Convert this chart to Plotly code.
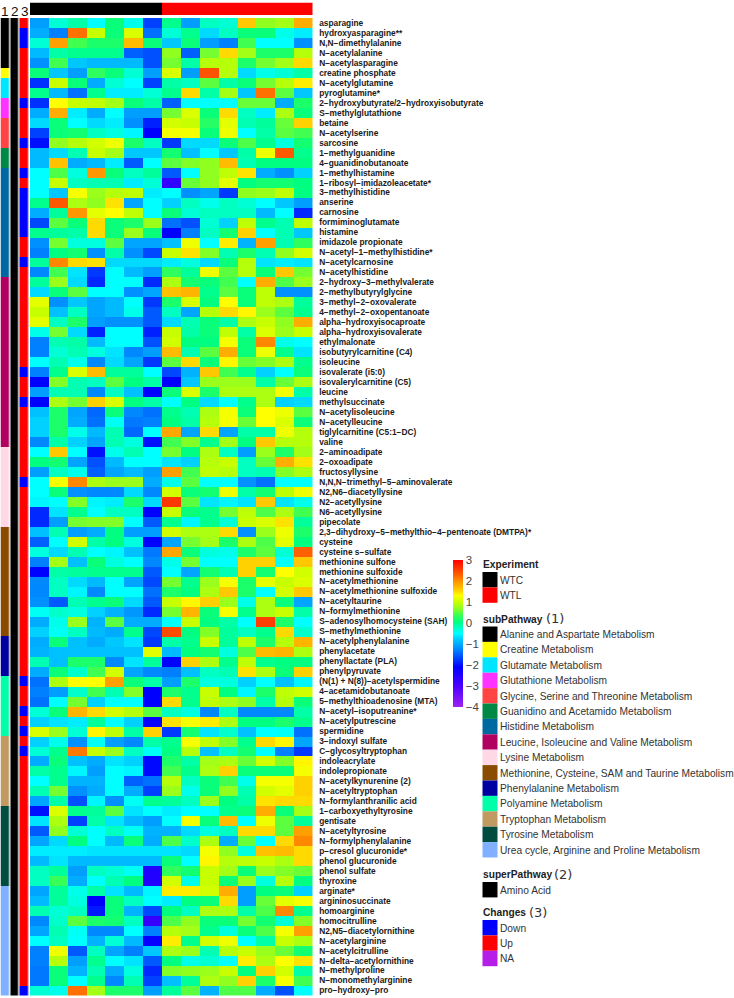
import plotly.graph_objects as go

W, H = 734, 998

metabolites = [
    "asparagine", "hydroxyasparagine**", "N,N−dimethylalanine", "N−acetylalanine", "N−acetylasparagine",
    "creatine phosphate", "N−acetylglutamine", "pyroglutamine*",
    "2−hydroxybutyrate/2−hydroxyisobutyrate", "S−methylglutathione",
    "betaine", "N−acetylserine", "sarcosine", "1−methylguanidine", "4−guanidinobutanoate",
    "1−methylhistamine", "1−ribosyl−imidazoleacetate*", "3−methylhistidine", "anserine", "carnosine",
    "formiminoglutamate", "histamine", "imidazole propionate", "N−acetyl−1−methylhistidine*",
    "N−acetylcarnosine", "N−acetylhistidine",
    "2−hydroxy−3−methylvalerate", "2−methylbutyrylglycine", "3−methyl−2−oxovalerate",
    "4−methyl−2−oxopentanoate", "alpha−hydroxyisocaproate", "alpha−hydroxyisovalerate", "ethylmalonate",
    "isobutyrylcarnitine (C4)", "isoleucine", "isovalerate (i5:0)", "isovalerylcarnitine (C5)", "leucine",
    "methylsuccinate", "N−acetylisoleucine", "N−acetylleucine", "tiglylcarnitine (C5:1−DC)", "valine",
    "2−aminoadipate", "2−oxoadipate", "fructosyllysine", "N,N,N−trimethyl−5−aminovalerate",
    "N2,N6−diacetyllysine", "N2−acetyllysine", "N6−acetyllysine", "pipecolate",
    "2,3−dihydroxy−5−methylthio−4−pentenoate (DMTPA)*", "cysteine", "cysteine s−sulfate",
    "methionine sulfone", "methionine sulfoxide", "N−acetylmethionine", "N−acetylmethionine sulfoxide",
    "N−acetyltaurine", "N−formylmethionine", "S−adenosylhomocysteine (SAH)", "S−methylmethionine",
    "N−acetylphenylalanine", "phenylacetate", "phenyllactate (PLA)", "phenylpyruvate",
    "(N(1) + N(8))−acetylspermidine", "4−acetamidobutanoate", "5−methylthioadenosine (MTA)",
    "N−acetyl−isoputreanine*", "N−acetylputrescine", "spermidine",
    "3−indoxyl sulfate", "C−glycosyltryptophan", "indoleacrylate", "indolepropionate",
    "N−acetylkynurenine (2)", "N−acetyltryptophan", "N−formylanthranilic acid",
    "1−carboxyethyltyrosine", "gentisate", "N−acetyltyrosine", "N−formylphenylalanine",
    "p−cresol glucuronide*", "phenol glucuronide", "phenol sulfate", "thyroxine",
    "arginate*", "argininosuccinate", "homoarginine", "homocitrulline", "N2,N5−diacetylornithine",
    "N−acetylarginine", "N−acetylcitrulline", "N−delta−acetylornithine", "N−methylproline",
    "N−monomethylarginine", "pro−hydroxy−pro",
]

# scaled values, one list per subPathway, columns are 7 WTC then 8 WTL
alanine = [
    [-1.1, -0.3, -0.1, -0.5, 0.1, -0.4, -1.7, 0.0, -1.1, -0.2, -0.3, 1.6, 0.7, 0.8, 1.8],
    [-1.0, -1.3, 2.2, 1.0, 0.1, 1.1, -1.4, -0.3, 0.0, -0.7, -0.2, 0.1, 0.1, -0.4, -0.6],
    [-0.3, 1.9, 0.4, 0.2, 0.2, 1.7, 0.1, -0.8, 0.1, -1.1, -1.3, 0.4, -0.5, -0.5, -1.2],
    [-0.9, -0.1, 0.0, 0.0, 0.0, -1.5, -1.6, 0.7, -1.5, 0.6, 1.5, 0.8, 0.2, 0.2, 0.9],
    [-1.2, 0.4, -0.8, -0.9, -0.9, -0.9, -1.6, 0.6, -0.1, 0.9, 0.9, 0.2, 0.6, 0.8, 1.5],
]
creatine = [
    [0.1, -0.8, -1.1, 0.3, 0.1, -0.3, -1.1, 1.1, -1.1, 2.4, 0.9, -0.7, -0.4, -0.3, -0.1],
]
glutamate = [
    [-1.8, 1.0, 0.1, -1.0, -0.3, -0.5, -1.7, -0.1, -0.2, 0.5, -0.1, 0.1, 0.6, 0.9, 1.4],
    [0.0, -0.9, -1.4, 0.0, -0.6, -0.6, -0.3, 0.0, 1.5, -0.1, 0.8, -0.8, 2.2, 0.5, -0.8],
]
glutathione = [
    [-1.8, 1.3, 1.0, 0.95, 0.8, 0.1, -0.1, -1.5, -0.5, -0.5, -0.5, 0.55, 0.55, -1.0, 0.2],
    [-1.0, 1.8, -0.6, -1.0, -0.5, -1.1, -1.1, 0.6, 1.1, 0.1, 1.5, -0.2, -0.6, 0.85, 0.1],
]
glycine = [
    [-0.7, 0.1, -0.5, -0.7, -0.6, -1.2, -1.9, 1.05, 1.0, 0.25, 1.15, -0.15, -0.05, 0.55, 1.55],
    [-1.7, 0.1, 0.15, -0.2, -0.35, -0.55, -2.1, 1.25, 1.25, 0.1, 1.2, -0.5, -0.1, 0.5, 0.4],
    [-2.0, 0.7, 0.9, 1.05, 1.2, 0.2, -0.2, -1.75, -0.7, -0.7, 0.1, 0.45, 0.0, -0.35, 0.15],
]
guanidino = [
    [-0.9, -0.7, -0.15, 1.0, 0.8, -0.8, -0.8, 0.15, -0.85, -0.5, -0.8, -0.1, 1.2, 2.35, 0.0],
    [-0.9, 1.65, -1.0, -0.9, -0.6, -1.55, -0.5, 0.5, 0.65, 0.7, 1.7, -0.15, 0.05, 0.05, 0.05],
]
histidine = [
    [-0.5, 0.45, -0.35, 1.95, 0.1, -0.2, -0.05, -1.55, -0.5, 0.7, 0.95, 1.45, -1.0, -1.2, -0.75],
    [-0.5, 1.0, -0.2, -0.15, -0.15, -0.6, -0.3, -2.7, 0.55, 0.7, 1.15, 0.05, 0.15, 0.15, 0.05],
    [-0.5, -0.8, 1.25, 0.75, 0.9, 0.95, -0.6, -0.5, -1.2, -1.05, -1.75, 0.7, 0.75, 0.95, 0.05],
    [0.0, 2.35, 0.85, 0.7, 1.45, -1.05, -0.5, -0.75, -0.2, -0.4, -0.2, -0.3, -0.5, -0.8, -1.1],
    [-1.0, -0.05, 1.95, 1.15, 1.3, 0.95, -0.5, 0.1, -0.3, -0.2, -0.2, -0.2, -0.9, -0.5, -1.85],
    [-1.65, 0.5, 0.1, 1.5, 0.1, 0.2, 0.75, -1.4, -1.6, -0.3, -0.75, 0.95, 0.0, -0.15, 0.95],
    [0.0, -0.05, -0.1, 1.5, 0.1, 0.75, 0.1, -2.1, -1.3, -0.2, 0.15, 1.55, -0.5, -0.15, -0.8],
    [-1.2, 0.6, -0.35, -0.35, 0.5, -1.05, -1.05, -0.85, 1.2, -0.5, 1.4, -0.95, 1.9, -0.15, 0.3],
    [-1.3, 0.05, 0.15, -1.2, -0.1, -1.2, -1.65, 1.0, 1.45, 0.65, -0.15, 0.2, -0.15, 0.7, 1.05],
    [-0.05, 2.05, 1.5, 1.45, -0.7, -0.7, -0.7, -0.6, -0.35, -0.7, 0.1, 0.9, -0.65, -0.6, -0.65],
    [-1.25, 0.4, -0.65, -1.75, -0.5, -0.9, -1.1, 0.3, -0.05, 1.2, 0.5, 0.9, 0.1, 1.6, 0.6],
]
leucine = [
    [-0.05, 0.75, -0.7, -1.85, -0.5, -0.5, -1.85, 0.85, 0.15, 0.1, 0.4, -0.5, 1.8, 0.45, 0.75],
    [-0.7, 0.1, 0.5, -0.5, -0.5, -1.2, -1.05, 1.65, 1.75, 0.0, 0.5, 0.1, 0.95, -1.2, -1.2],
    [1.15, -1.2, -0.8, -1.05, -0.9, -0.5, -1.75, 0.2, 1.1, 0.05, 1.3, 0.1, 0.95, 0.85, -0.05],
    [1.0, -0.85, -0.2, -1.05, -0.9, -0.4, -1.55, -0.2, -1.05, 0.9, 1.5, 1.35, 0.75, 0.5, 0.0],
    [1.15, -0.2, 0.2, -1.1, -1.2, -1.2, -1.55, -0.7, -0.15, 0.1, -0.1, 0.85, 1.0, 0.7, 1.8],
    [-0.4, 0.6, -0.7, -1.9, -0.5, -0.5, -1.9, 1.0, -0.1, 0.1, 0.95, -0.1, 1.1, 0.75, 1.0],
    [-1.3, -0.15, -0.1, -0.9, -0.5, -0.5, -1.6, 1.05, 0.05, 0.05, 1.25, 0.1, 2.05, -0.4, -0.5],
    [-1.3, -0.3, -0.15, -0.35, -0.65, -1.25, -1.1, 1.7, -0.15, 0.5, 1.8, 0.1, 1.2, 0.0, -0.65],
    [-0.5, -0.15, -0.4, -1.25, -0.7, -1.05, -1.75, 0.5, 1.5, 0.1, 1.35, 0.55, 0.65, 0.85, 0.0],
    [-1.3, 0.0, 1.1, 1.7, -0.05, -0.05, -0.5, -1.65, -0.95, 1.6, 0.4, 0.0, -0.75, -0.5, 0.1],
    [-2.1, 0.65, -0.15, -0.2, 0.5, 0.05, -0.1, -2.1, -0.8, 0.75, 0.75, 0.75, -0.1, 0.55, 0.85],
    [-1.1, -0.15, -0.15, -1.25, -0.2, -0.85, -2.1, 0.1, 1.1, 0.2, 0.85, 0.85, 0.85, 1.25, -0.1],
    [-2.1, 0.85, 0.6, 1.55, 1.1, 0.05, -0.1, -0.5, 0.05, -0.7, -0.5, 0.0, 0.85, -0.75, -0.7],
    [-0.85, 0.2, -1.05, -1.45, 0.1, -1.25, -1.4, 0.0, -0.15, 0.85, 1.25, 0.1, 1.3, 1.2, 0.5],
    [-0.75, 0.2, -1.0, -1.4, -0.45, -1.35, -1.3, 0.05, -0.1, 0.9, 1.25, 0.55, 1.3, 1.1, 0.1],
    [-0.75, 0.2, -0.4, -0.9, -0.15, -1.45, -0.5, 1.85, -1.05, 1.5, -1.05, -0.1, -0.1, 1.2, 0.9],
    [-1.25, -0.1, -0.75, -1.05, -0.15, -0.35, -2.0, 0.4, 0.65, 0.0, 0.8, 0.05, 1.6, 0.9, 0.9],
]
lysine = [
    [-0.5, 1.6, -0.5, -2.0, -0.4, -0.15, -0.5, 0.6, 0.05, 0.85, -0.2, -1.1, 0.75, 0.2, 0.8],
    [0.05, 0.15, -1.05, -1.6, -0.9, -0.5, -0.5, -0.65, -0.75, 0.9, 1.0, -0.2, 0.55, 1.8, 1.45],
    [-1.1, -0.2, -0.4, -1.5, -1.05, -0.9, -1.1, 1.9, 0.4, 0.95, 0.9, -0.2, -0.15, 0.65, 0.85],
    [-0.5, 1.25, 2.05, 0.85, 0.75, 0.75, -1.0, -0.4, 0.5, -0.5, -0.5, -1.2, -1.4, -0.5, -0.5],
    [-0.5, 0.1, -1.2, -1.25, -1.25, -0.7, -1.25, 1.05, 0.1, 0.15, 1.2, -0.1, 0.15, 0.95, 1.2],
    [-0.55, -0.5, 0.65, -0.55, -0.6, 0.2, -0.7, 2.6, 0.5, -0.65, -0.55, -0.65, 1.6, -0.65, -0.4],
    [-1.85, -0.65, 0.0, -0.5, -0.2, -0.2, -2.1, 1.0, 0.1, 0.0, 0.6, 0.95, 0.45, 0.85, 0.4],
    [-1.85, -1.1, 0.6, 0.65, 0.65, -0.5, -1.55, 0.0, -0.55, 0.0, -0.3, 1.0, 1.1, 1.45, -0.05],
]
methionine = [
    [-0.85, -0.15, -1.1, -1.0, 0.05, -1.1, -1.1, 1.05, 0.85, 0.85, 1.5, -1.2, 0.75, 1.2, 0.2],
    [-1.5, -0.5, 1.05, -0.1, 0.05, -0.35, -2.1, -1.05, 0.6, 0.8, 0.2, 0.85, 0.45, 1.15, 0.05],
    [-0.35, -0.7, -0.15, -0.5, -0.55, -0.85, -1.35, 1.85, 0.1, -0.35, -0.4, 0.2, 0.5, -0.3, 2.3],
    [-1.3, 0.8, -0.85, 0.1, -0.35, -0.5, -1.25, -0.4, 0.6, -0.5, -0.5, 1.55, 1.55, -0.5, 1.6],
    [-2.1, -0.1, -0.05, 0.0, 0.0, 0.0, -1.55, -0.5, -1.05, 0.15, -0.15, 1.55, 0.15, 1.3, 1.05],
    [-1.25, -0.2, -0.7, -0.9, -0.5, -1.05, -1.65, 0.6, 0.0, 0.75, 1.25, 0.2, 1.15, 1.0, 1.1],
    [-1.25, -0.2, -0.55, -1.25, -0.5, -0.5, -1.4, 0.2, 0.05, 0.85, 1.6, 0.2, -0.5, 1.05, 1.6],
    [-1.2, -1.55, -0.15, 0.0, 0.1, -0.7, -1.55, 1.0, 1.35, 1.55, 0.75, -0.4, 0.85, 0.1, -1.05],
    [-0.45, -0.25, -0.35, -0.75, -0.95, -1.15, -1.85, 0.6, 1.75, 0.1, 1.25, 0.0, 0.85, 1.0, -0.1],
    [-1.0, -0.4, 0.75, -0.95, 0.5, -1.0, -1.0, -0.5, 1.0, 0.05, -0.1, -0.5, 2.55, 0.2, -0.5],
    [-0.75, -0.45, -0.2, -0.9, -1.0, 0.0, -1.65, 2.45, 0.05, 0.65, -0.05, -0.2, 0.0, 1.5, -0.25],
]
phenylalanine = [
    [-1.0, 0.1, -0.85, -1.0, -0.8, -0.65, -1.75, -0.1, 0.0, 1.0, -0.05, 0.95, 0.2, 0.9, 1.75],
    [-0.95, -0.85, -0.85, -0.85, -0.85, -0.85, 1.15, -0.9, 0.05, 0.15, -0.35, 0.45, 1.7, 1.75, 0.85],
    [-0.15, -0.85, 0.2, 0.2, -1.25, -0.65, -0.05, -2.1, 1.55, 0.85, 0.0, 0.95, 0.0, 0.05, 0.05],
    [-1.0, 0.1, -0.25, 0.4, 1.05, -1.05, -1.25, -1.3, -0.85, -0.2, -0.15, 1.45, 0.85, 0.1, 1.55],
]
polyamine = [
    [-1.4, 0.85, 1.3, 1.3, 1.9, 0.1, -0.1, -1.1, 0.2, -0.35, -0.35, -0.75, -0.5, -0.85, -0.55],
    [-1.3, -1.1, -0.25, 0.4, -0.15, 0.65, -2.1, 0.2, 0.0, 1.0, 0.05, -0.55, 0.2, 0.95, 1.05],
    [-1.4, -0.5, 0.6, -0.75, -0.5, -0.5, -2.1, 1.5, 0.0, 0.95, 0.85, 0.7, -0.1, 0.9, 0.1],
    [-0.3, 0.1, 1.75, 1.5, 1.05, 0.9, 0.5, -0.2, -0.35, -1.25, -0.2, -1.25, -1.25, -1.25, -0.1],
    [-0.75, -0.65, -0.6, -0.05, -0.5, -0.75, -2.2, 1.45, 1.25, 1.4, 0.85, 0.05, 0.05, 0.2, 0.0],
    [1.1, 0.75, -0.3, 1.35, 0.95, -0.1, 1.55, -1.75, 0.15, -0.65, -0.25, -0.85, -0.5, -0.45, -1.4],
]
tryptophan = [
    [-0.75, -0.4, -1.2, -0.45, -1.1, -1.25, -0.1, 0.0, 1.25, 0.95, 0.65, 0.0, 1.5, 1.35, -1.05],
    [-0.3, 0.0, 2.15, 1.0, 0.75, -0.2, -0.45, 0.05, 0.9, -0.85, -0.2, 0.15, -0.5, -1.3, -1.75],
    [-1.0, 0.1, -0.85, -1.0, -0.65, -0.75, -2.05, 0.2, -0.1, 0.8, 0.85, 0.55, 1.05, 0.65, 1.35],
    [-0.1, 0.0, -0.55, -1.1, -0.5, -0.55, -2.05, 0.4, 0.0, 0.85, 1.55, 0.1, 0.1, 0.1, 1.25],
    [-0.5, 0.0, -0.95, -0.95, -0.5, -1.5, -1.4, 0.9, -0.2, 0.1, 0.4, -0.4, 1.25, 1.25, 1.55],
    [-0.15, 0.6, -1.2, -1.0, -0.5, -1.0, -1.7, 0.75, -0.4, 0.1, 0.7, -0.15, 1.05, 1.15, 1.55],
    [-1.05, -0.1, -1.6, -0.55, -1.2, -0.45, 0.0, -0.05, -0.2, 0.75, 0.05, -0.1, 1.45, 1.5, 1.5],
]
tyrosine = [
    [-2.0, 1.1, 0.0, -0.05, 0.5, -0.65, -0.5, -0.6, -0.5, -0.5, 0.0, 0.1, 1.8, 0.1, 0.8],
    [-0.65, 0.85, -1.7, -0.1, -0.65, -0.9, -1.1, -0.5, 1.25, 0.1, 1.7, -0.5, 1.2, 0.5, -0.05],
    [-1.55, 0.7, -0.3, -0.5, -0.2, -0.45, -0.95, -0.95, -0.7, -0.35, -0.2, 1.5, 1.5, 0.5, 1.9],
    [-1.05, -0.7, 0.05, -0.5, -0.9, 0.1, -1.0, 0.45, -0.25, 0.85, -1.0, 0.55, -0.5, 1.5, 2.05],
    [-0.6, -0.6, -0.6, -0.65, -0.65, -0.65, -0.65, -0.65, -0.7, 1.25, 0.7, -0.35, 1.65, 1.7, 1.5],
    [-0.9, -0.65, -0.9, -0.9, -0.9, -0.9, -0.9, 0.1, -0.5, 1.35, 0.9, 0.95, 1.0, 0.85, 1.5],
    [-0.2, -0.05, -1.1, -0.2, -0.3, -0.45, -2.5, 0.3, 0.15, 1.0, 0.8, 0.1, 0.75, 0.65, 0.55],
    [-0.2, 0.35, -1.0, -0.5, -0.15, 0.05, -2.5, 1.05, -0.4, 1.0, 0.1, 0.75, -0.35, 0.9, 0.05],
]
urea = [
    [-1.05, -0.05, -0.4, -0.1, -0.65, -0.9, -0.55, 1.4, 1.4, 1.05, 1.8, -1.1, 0.05, 0.1, -0.75],
    [-0.9, -0.05, -0.35, -2.1, 0.1, -0.2, -0.5, -0.6, 0.05, 0.1, 1.5, -1.1, 0.55, 1.15, 1.25],
    [-0.15, -0.3, -0.2, -1.95, 0.1, -0.95, -1.65, 0.05, -0.2, 0.85, 0.85, -0.1, 0.45, 2.05, 0.0],
    [-1.25, -0.25, 0.5, 0.2, 0.15, -0.2, -2.75, 0.45, 0.7, 0.1, 0.1, 0.6, 0.15, -0.3, 0.65],
    [-1.05, -0.15, -0.45, -1.25, -1.25, -0.5, -1.3, 0.9, 0.8, 0.0, -0.35, 0.1, 0.45, 1.25, 1.9],
    [-0.5, -0.2, -0.5, -0.95, -0.3, -0.9, -2.2, 1.4, 0.0, 1.05, 1.2, -0.5, -0.1, 1.0, 0.85],
    [-1.3, 1.2, -1.55, -0.2, -1.05, -1.3, -0.8, 0.85, 0.75, -0.15, 0.9, 1.0, 0.75, 0.55, 0.15],
    [-1.3, 0.9, -1.1, 0.0, -0.5, -0.65, -1.55, 0.05, -0.4, -0.3, -0.5, 1.4, 0.85, 1.3, 1.45],
    [-1.35, 0.1, -0.95, -0.15, -1.0, -0.35, -1.85, 0.65, 0.7, 0.75, 1.0, 0.05, 1.55, 1.05, -0.1],
    [-1.35, 0.1, -0.5, 0.0, -1.25, -0.15, -1.7, -0.85, -0.05, 0.85, 0.7, 1.55, 0.2, 1.25, 0.4],
    [-0.3, -0.4, 2.2, 0.8, 0.2, 0.2, -1.1, -0.05, 0.5, -0.95, 0.45, 0.45, -1.0, -1.6, -0.5],
]

sub_names = [
    "Alanine and Aspartate Metabolism", "Creatine Metabolism", "Glutamate Metabolism", "Glutathione Metabolism",
    "Glycine, Serine and Threonine Metabolism", "Guanidino and Acetamido Metabolism", "Histidine Metabolism",
    "Leucine, Isoleucine and Valine Metabolism", "Lysine Metabolism",
    "Methionine, Cysteine, SAM and Taurine Metabolism", "Phenylalanine Metabolism", "Polyamine Metabolism",
    "Tryptophan Metabolism", "Tyrosine Metabolism", "Urea cycle, Arginine and Proline Metabolism",
]
sub_groups = [alanine, creatine, glutamate, glutathione, glycine, guanidino, histidine, leucine, lysine,
              methionine, phenylalanine, polyamine, tryptophan, tyrosine, urea]
sub_colors = ["#000000", "#ffff00", "#00e5ff", "#ff33ff", "#ff4444", "#008844", "#0068a0", "#b00060", "#ffd8e6",
              "#8a4a00", "#0000a0", "#00ffa8", "#c09a60", "#004d40", "#80b0ff"]

experiment = [0, 0, 0, 0, 0, 0, 0, 1, 1, 1, 1, 1, 1, 1, 1]
experiment_names = ["WTC", "WTL"]
experiment_colors = ["#000000", "#ff0000"]

# rows (1 based) marked Down in the third column, every other row is Up
down_rows = [2, 3, 9, 13, 16, 18, 19, 20, 21, 22, 25, 36, 39, 47, 67, 70, 72, 74, 98]
change_names = ["Down", "Up", "NA"]
change_colors = ["#0000ff", "#ff0000", "#b41ee6"]

colorbar_ticks = [3, 2, 1, 0, -1, -2, -3, -4]
scale_points = [
    (-4, "#a020f0"), (-3, "#4a00ff"), (-2.1, "#0000ff"), (-1.6, "#0050ff"), (-1.2, "#0090ff"),
    (-0.8, "#00c8ff"), (-0.5, "#00ffff"), (-0.2, "#00ffc0"), (0.05, "#00ff80"), (0.4, "#40ff50"),
    (0.7, "#90ff20"), (1.0, "#c8ff00"), (1.3, "#ffff00"), (1.6, "#ffc800"), (1.9, "#ffa000"),
    (2.3, "#ff6000"), (3, "#ff0000"),
]


def px_x(v):
    return v / W


def px_y(v):
    return 1 - v / H


def discrete_scale(colors):
    n = len(colors)
    out = []
    for i, c in enumerate(colors):
        out.append([i / n, c])
        out.append([(i + 1) / n, c])
    return out


values = [row for group in sub_groups for row in group]
n_rows = len(values)
rows = list(range(n_rows))

sub_index = [i for i, group in enumerate(sub_groups) for _ in group]
change_index = [0 if r + 1 in down_rows else 1 for r in rows]

# one palette for the three left hand columns
side_colors = sub_colors + change_colors[:2]
side_z = [[sub_index[r], 0, len(sub_colors) + change_index[r]] for r in rows]

fig = go.Figure()

fig.add_trace(go.Heatmap(
    z=values, y=rows, xaxis="x", yaxis="y", zmin=-4, zmax=3,
    colorscale=[[(v + 4) / 7, c] for v, c in scale_points],
    hoverinfo="skip",
    colorbar=dict(
        x=px_x(453), xanchor="left", y=px_y(560), yanchor="top",
        thickness=10, thicknessmode="pixels", len=147 / H, lenmode="fraction",
        xpad=0, ypad=0, outlinewidth=0, ticks="", ticklen=0,
        tickmode="array", tickvals=colorbar_ticks,
        tickfont=dict(family="Liberation Sans", size=11.5, color="#444444"),
    ),
))
fig.add_trace(go.Heatmap(
    z=[experiment], xaxis="x2", yaxis="y2", zmin=0, zmax=1,
    colorscale=discrete_scale(experiment_colors), showscale=False, hoverinfo="skip",
))
fig.add_trace(go.Heatmap(
    z=side_z, y=rows, xaxis="x3", yaxis="y3", zmin=-0.5, zmax=len(side_colors) - 0.5,
    colorscale=discrete_scale(side_colors), showscale=False, xgap=1.4, hoverinfo="skip",
))

hidden = dict(visible=False, showgrid=False, zeroline=False)
fig.update_layout(
    width=W, height=H, margin=dict(l=0, r=0, t=0, b=0), paper_bgcolor="white", plot_bgcolor="white",
    showlegend=False,
    xaxis=dict(domain=[px_x(30), px_x(312.5)], **hidden),
    yaxis=dict(
        domain=[px_y(995.5), px_y(18)], range=[n_rows - 0.5, -0.5], side="right", anchor="x",
        tickmode="array", tickvals=rows, ticktext=metabolites,
        # clear ticks only push the labels away from the cells
        ticks="outside", ticklen=4, tickcolor="rgba(0,0,0,0)",
        showgrid=False, zeroline=False, showline=False,
        tickfont=dict(family="Liberation Sans", size=8.35, color="#1a1a1a", weight="bold"),
    ),
    xaxis2=dict(domain=[px_x(30), px_x(312.5)], anchor="y2", **hidden),
    yaxis2=dict(domain=[px_y(15), px_y(2.5)], anchor="x2", **hidden),
    xaxis3=dict(domain=[px_x(0.5), px_x(29.5)], anchor="y3", **hidden),
    yaxis3=dict(domain=[px_y(995.5), px_y(18)], range=[n_rows - 0.5, -0.5], anchor="x3", **hidden),
)

def add_text(x, y, text, size=10.2, family="Liberation Sans", color="#333333", weight="normal", xanchor="left"):
    fig.add_annotation(
        x=px_x(x), y=px_y(y), xref="paper", yref="paper", text=text, showarrow=False,
        xanchor=xanchor, yanchor="middle", borderpad=0, borderwidth=0,
        font=dict(family=family, size=size, color=color, weight=weight),
    )


def add_block(top, title, number, names, colors):
    # title, then one 15.4px swatch per entry
    add_text(482.5, top, title, size=10.2, color="#222222", weight="bold")
    if number:
        add_text(number[0], top - 0.5, number[1], size=13, family="DejaVu Sans", color="#333333")
    y = top + 7.5
    for name, color in zip(names, colors):
        fig.add_shape(type="rect", xref="paper", yref="paper", line_width=0, fillcolor=color,
                      x0=px_x(482.5), x1=px_x(497.5), y0=px_y(y), y1=px_y(y + 15.4))
        add_text(500, y + 8, name)
        y += 15.4


add_block(564.5, "Experiment", None, experiment_names, experiment_colors)
add_block(619, "subPathway", (546, "(1)"), sub_names, sub_colors)
add_block(874.5, "superPathway", (554, "(2)"), ["Amino Acid"], ["#000000"])
add_block(912.5, "Changes", (529, "(3)"), change_names, change_colors)

for x, digit in zip([5, 14.5, 25], ["1", "2", "3"]):
    add_text(x, 11.5, digit, size=13.5, color="#111111", xanchor="center")

fig.write_html("out.html", config=dict(displayModeBar=False),
               post_script="document.body.style.margin='0';")
